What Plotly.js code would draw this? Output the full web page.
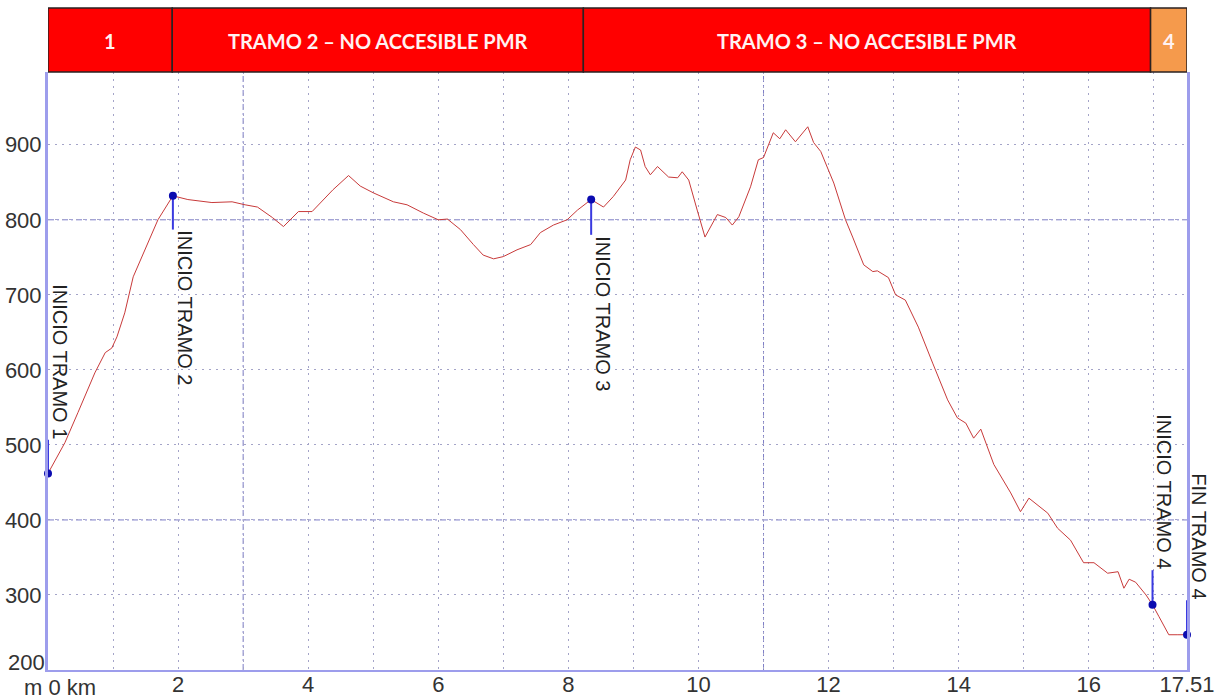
<!DOCTYPE html>
<html>
<head>
<meta charset="utf-8">
<script src="https://cdn.plot.ly/plotly-3.0.1.min.js"></script>
<style>html,body{margin:0;padding:0;background:#fff;}#chart{width:1222px;height:699px;}</style>
</head>
<body>
<div id="chart"></div>
<script>
// ---- Data ----
const distKm = [0,0.26,0.46,0.72,0.88,0.98,1.06,1.18,1.31,1.49,1.69,1.92,2.15,2.52,2.83,3.03,3.22,3.45,3.62,3.85,4.06,4.38,4.62,4.80,5.0,5.31,5.52,5.77,6.0,6.14,6.34,6.54,6.69,6.85,7.0,7.21,7.42,7.57,7.77,7.98,8.14,8.35,8.54,8.69,8.88,8.95,9.03,9.11,9.18,9.26,9.37,9.54,9.68,9.75,9.85,9.98,10.1,10.29,10.42,10.52,10.62,10.8,10.92,11.0,11.15,11.25,11.34,11.49,11.68,11.77,11.88,12.08,12.26,12.37,12.54,12.68,12.75,12.92,13.03,13.18,13.38,13.6,13.83,13.98,14.11,14.23,14.34,14.54,14.8,14.95,15.08,15.37,15.52,15.72,15.92,16.08,16.29,16.45,16.54,16.62,16.72,16.88,16.98,17.08,17.23,17.37,17.51];
const elevM = [462,503,543,596,623,629,644,676,724,760,800,832,827,823,824,820,817,803,791,811,811,840,859,845,836,824,820,809,800,801,787,767,753,748,751,760,767,783,793,800,813,827,817,831,853,880,897,893,871,860,871,857,856,864,853,813,777,807,803,793,804,844,880,883,916,908,920,904,924,903,891,849,800,777,740,731,732,723,700,693,657,609,560,536,529,509,521,474,436,411,429,409,389,373,343,343,329,331,309,321,317,300,287,271,247,247,247];

const markerKm = [0, 1.92, 8.35, 16.98, 17.51];
const markerM = [462, 832, 827, 287, 247];
const stemEndM = [507, 787, 780, 333, 293];
const markerLabels = ['INICIO TRAMO 1', 'INICIO TRAMO 2', 'INICIO TRAMO 3', 'INICIO TRAMO 4', 'FIN TRAMO 4'];

const segBoundsKm = [0, 1.91, 8.23, 16.95, 17.51];
const segLabels = ['1', 'TRAMO 2 – NO ACCESIBLE PMR', 'TRAMO 3 – NO ACCESIBLE PMR', '4'];
const segColors = ['#ff0000', '#ff0000', '#ff0000', '#f59a4c'];

const xTickVals = [0, 2, 4, 6, 8, 10, 12, 14, 16, 17.51];
const xTickText = ['m 0 km', '2', '4', '6', '8', '10', '12', '14', '16', '17.51'];
const yTickVals = [200, 300, 400, 500, 600, 700, 800, 900];
const yTickText = ['200', '300', '400', '500', '600', '700', '800', '900'];
const accentXKm = [3, 11];
const accentYM = [400, 800];

// ---- Build traces ----
const stemX = [], stemY = [];
markerKm.forEach((k, i) => { stemX.push(k, k, null); stemY.push(markerM[i], stemEndM[i], null); });

const traces = [
  { x: distKm, y: elevM, type: 'scatter', mode: 'lines',
    line: { color: '#c83a3a', width: 1 }, hoverinfo: 'x+y', cliponaxis: false },
  { x: stemX, y: stemY, type: 'scatter', mode: 'lines',
    line: { color: '#3a3ae0', width: 2 }, hoverinfo: 'skip', cliponaxis: false },
  { x: markerKm, y: markerM, type: 'scatter', mode: 'markers',
    marker: { color: '#0b0bb0', size: 8 }, cliponaxis: false }
];

const shapes = [];
accentXKm.forEach(k => shapes.push({ type: 'line', xref: 'x', yref: 'paper', x0: k, x1: k, y0: 0, y1: 1,
  line: { color: '#7d7dc8', width: 1, dash: '6px,3px,2px,3px' }, layer: 'below' }));
accentYM.forEach(m => shapes.push({ type: 'line', xref: 'paper', yref: 'y', x0: 0, x1: 1, y0: m, y1: m,
  line: { color: '#7d7dc8', width: 1, dash: '6px,3px,2px,3px' }, layer: 'below' }));

const annotations = [];
for (let i = 0; i < segLabels.length; i++) {
  shapes.push({ type: 'rect', xref: 'x', yref: 'paper', x0: segBoundsKm[i], x1: segBoundsKm[i + 1],
    y0: 1.0, y1: 1.107, fillcolor: segColors[i], line: { color: '#2a2222', width: 1.5 }, layer: 'above' });
  annotations.push({ xref: 'x', yref: 'paper', x: (segBoundsKm[i] + segBoundsKm[i + 1]) / 2, y: 1.0515,
    text: segLabels[i], showarrow: false, xanchor: 'center', yanchor: 'middle',
    font: { family: 'Lato, Open Sans, sans-serif', size: 20, color: '#fff2f2', weight: 'bold' } });
}
markerKm.forEach((k, i) => {
  const above = stemEndM[i] > markerM[i];
  annotations.push({ xref: 'x', yref: 'y', x: k, y: stemEndM[i], text: markerLabels[i], showarrow: false,
    textangle: 90, xanchor: 'left', yanchor: above ? 'bottom' : 'top', borderpad: 0,
    font: { family: 'Liberation Sans, Arial, sans-serif', size: 20, color: '#222' } });
});
// first x tick label ("m 0 km") and lowest y tick label drawn as offset annotations so they do not collide
annotations.push({ xref: 'paper', yref: 'paper', x: 0, y: 0, xshift: -26, yshift: -3,
  xanchor: 'left', yanchor: 'top', text: xTickText[0], showarrow: false,
  font: { family: 'Liberation Sans, Arial, sans-serif', size: 22, color: '#333' } });
annotations.push({ xref: 'paper', yref: 'y', x: 0, y: yTickVals[0], xshift: -1, yshift: 8,
  xanchor: 'right', yanchor: 'middle', text: yTickText[0], showarrow: false,
  font: { family: 'Liberation Sans, Arial, sans-serif', size: 22, color: '#333' } });

const gridDot = { color: '#a4a4c8', dash: '2px,5px' };
const layout = {
  width: 1222, height: 699,
  margin: { l: 48, r: 35, t: 72, b: 29, pad: 0 },
  paper_bgcolor: '#ffffff', plot_bgcolor: '#ffffff',
  showlegend: false,
  font: { family: 'Liberation Sans, Arial, sans-serif', size: 22, color: '#333' },
  xaxis: {
    range: [0, 17.51], tickmode: 'array', tickvals: xTickVals,
    ticktext: xTickText.map((t, i) => i === 0 ? '' : t),
    showgrid: true, gridcolor: gridDot.color, griddash: gridDot.dash, gridwidth: 1,
    minor: { dtick: 1, showgrid: true, gridcolor: gridDot.color, griddash: gridDot.dash, gridwidth: 1 },
    showline: true, linecolor: '#9d9dec', linewidth: 2, mirror: false, zeroline: false,
    ticks: '', tickfont: { size: 22, color: '#333' }, ticklabelstandoff: -6, fixedrange: true
  },
  yaxis: {
    range: [200, 997], tickmode: 'array', tickvals: yTickVals,
    ticktext: yTickText.map((t, i) => i === 0 ? '' : t),
    showgrid: true, gridcolor: gridDot.color, griddash: gridDot.dash, gridwidth: 1,
    showline: true, linecolor: '#9d9dec', linewidth: 3, mirror: true, zeroline: false,
    ticks: '', tickfont: { size: 22, color: '#333' }, ticklabelstandoff: -1, fixedrange: true
  },
  shapes: shapes,
  annotations: annotations
};

Plotly.newPlot('chart', traces, layout, { displayModeBar: false, staticPlot: true });
</script>
</body>
</html>
